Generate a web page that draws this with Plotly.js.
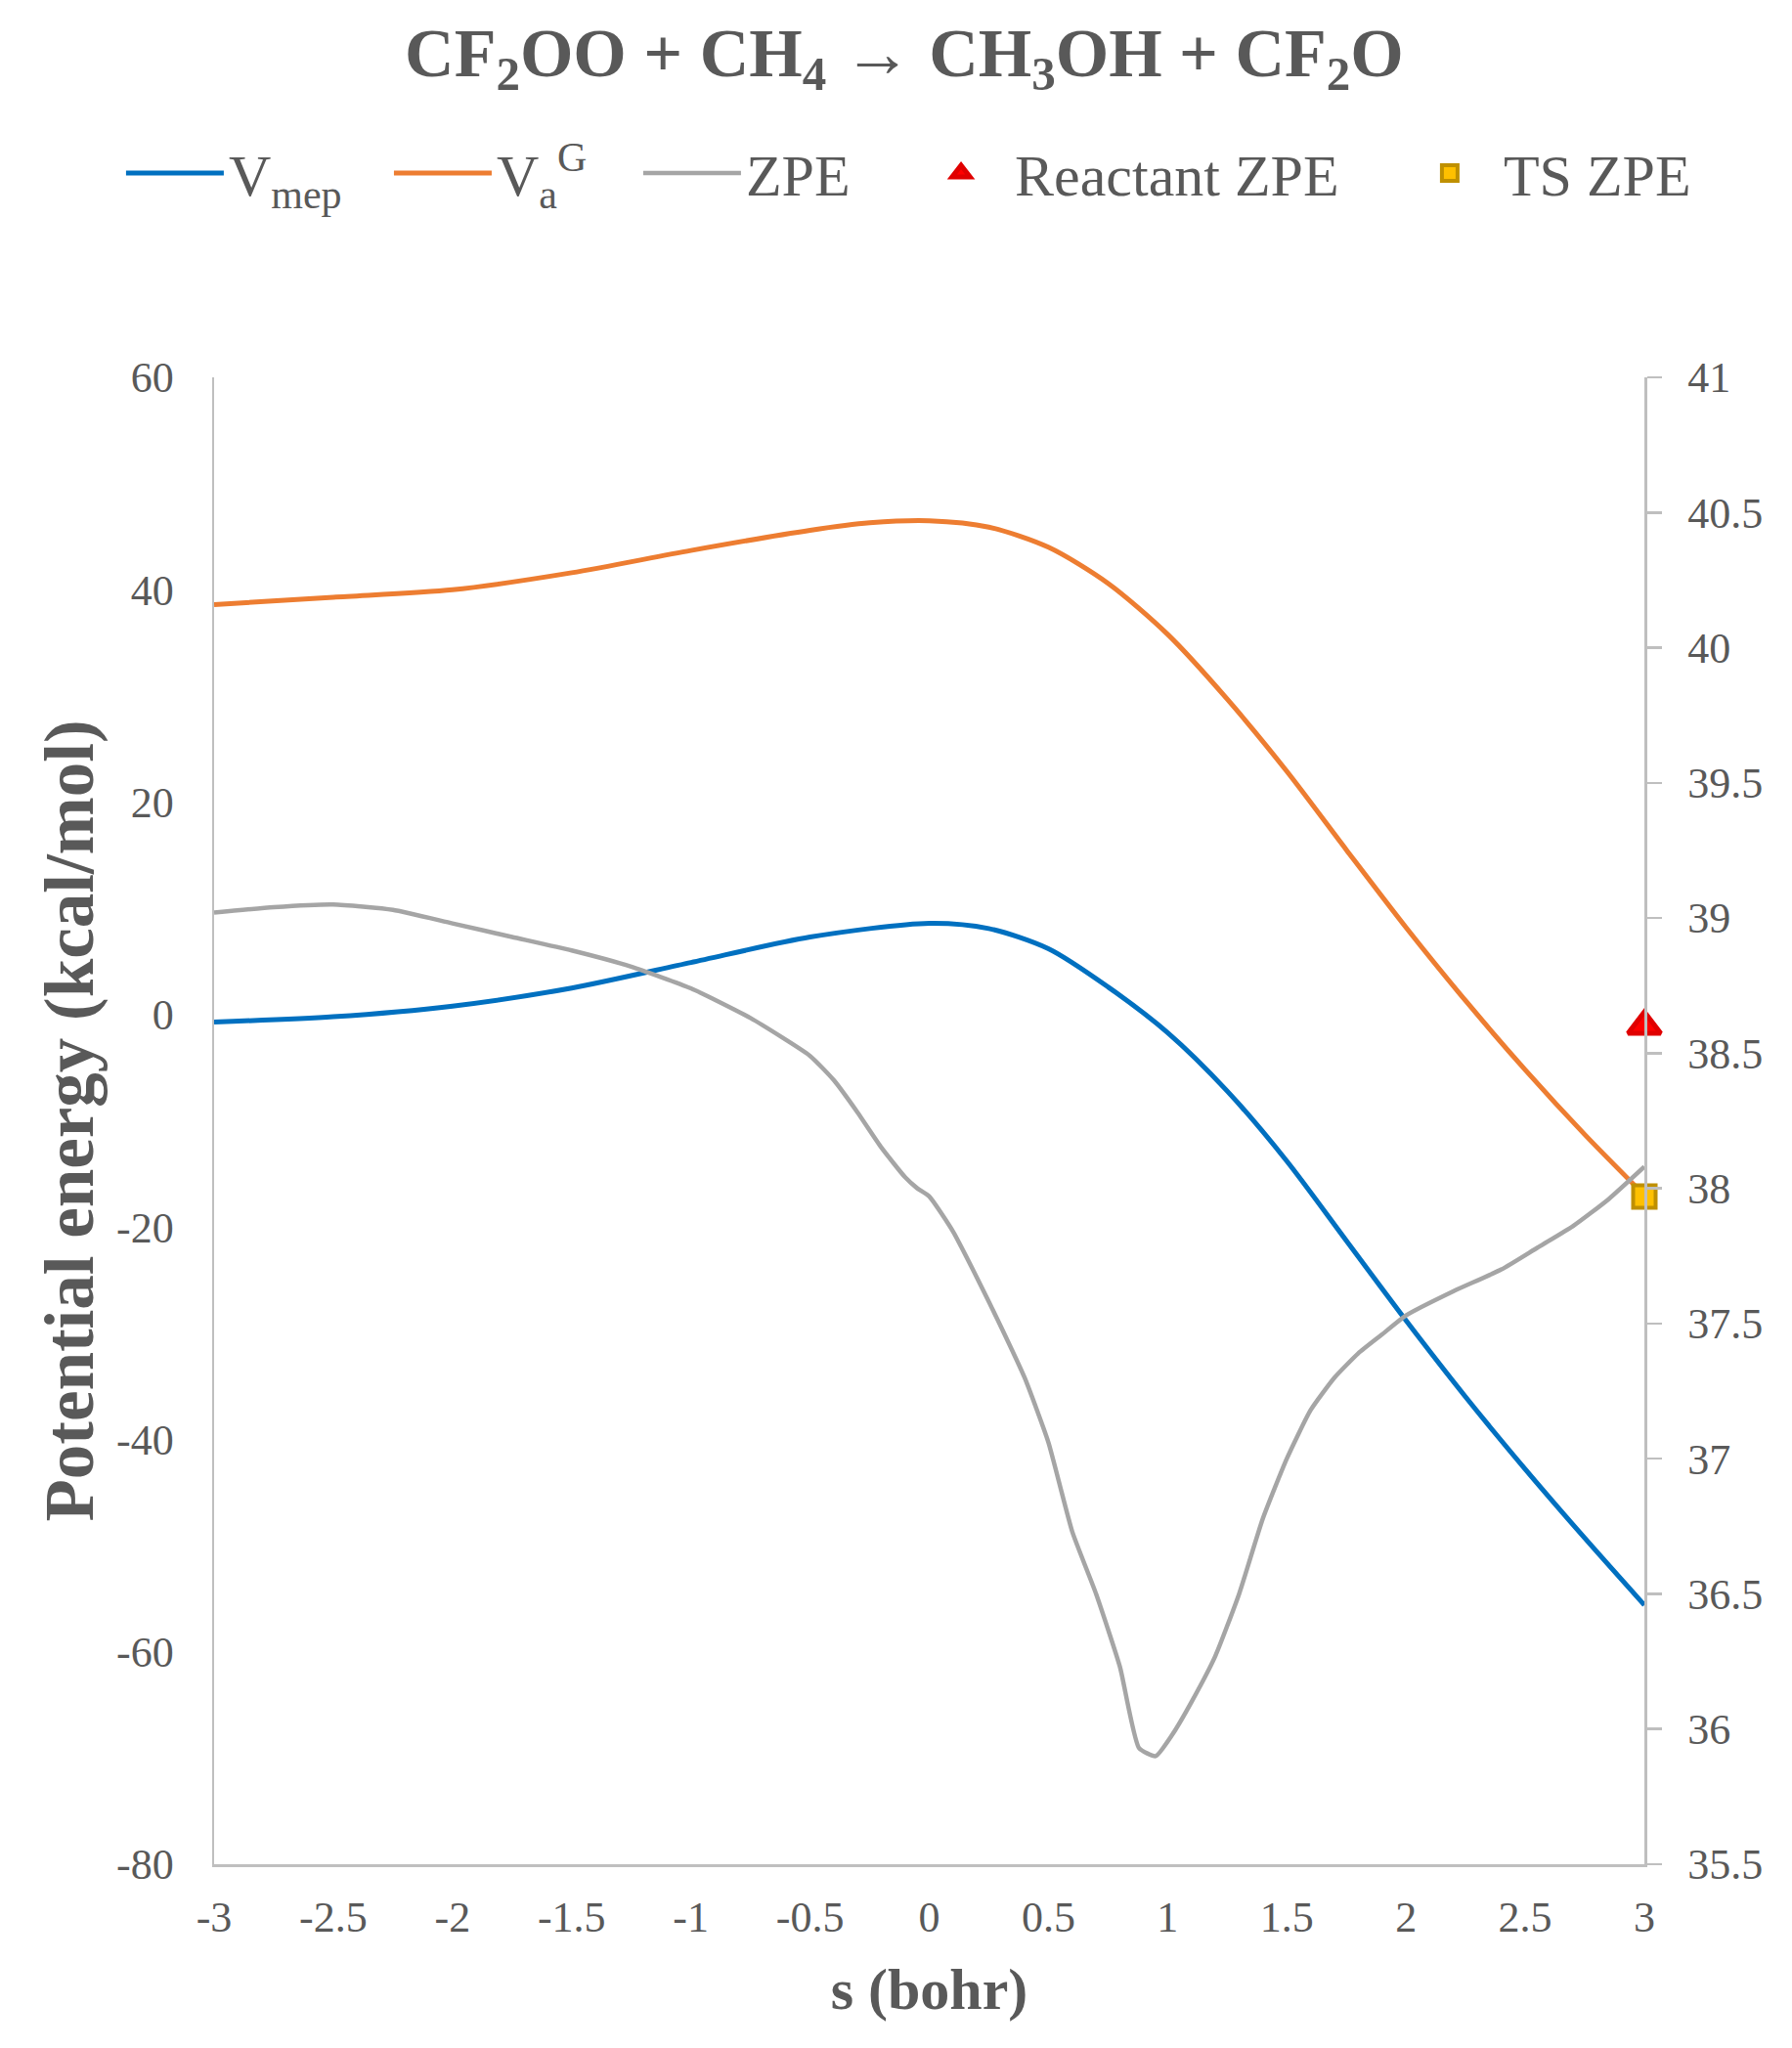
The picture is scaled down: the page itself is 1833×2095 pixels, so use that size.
<!DOCTYPE html>
<html>
<head>
<meta charset="utf-8">
<script src="https://cdn.plot.ly/plotly-3.0.1.min.js"></script>
<style>
  html, body { margin: 0; padding: 0; background: #fff; }
  #chart { width: 1833px; height: 2095px; }
</style>
</head>
<body>
<div id="chart"></div>
<script>
// reaction coordinate s (bohr) and curves
var sMep = [-3, -2.5, -2, -1.5, -1, -0.5, 0, 0.25, 0.5, 0.75, 1, 1.25, 1.5, 1.75, 2, 2.25, 2.5, 2.75, 3];
var vMep = [-0.7, -0.2, 0.8, 2.5, 4.9, 7.3, 8.6, 8.1, 6.2, 2.6, -1.7, -7.2, -13.8, -21.3, -28.8, -36.0, -42.8, -49.3, -55.6];

var sVaG = [-3, -2.5, -2, -1.5, -1, -0.5, -0.25, 0, 0.25, 0.5, 0.75, 1, 1.25, 1.5, 1.75, 2, 2.25, 2.5, 2.75, 3];
var vaG = [38.6, 39.3, 40.0, 41.6, 43.7, 45.6, 46.3, 46.5, 45.9, 44.0, 40.6, 35.8, 29.7, 22.9, 15.5, 8.2, 1.3, -5.2, -11.3, -17.0];

var sZpe = [-3, -2.75, -2.5, -2.25, -2, -1.75, -1.5, -1.25, -1, -0.75, -0.5, -0.4, -0.3, -0.2, -0.1, -0.05,
            0, 0.1, 0.2, 0.3, 0.4, 0.5, 0.6, 0.7, 0.8, 0.88, 0.95, 1.02, 1.1, 1.2, 1.3, 1.4, 1.5, 1.6, 1.7,
            1.8, 1.9, 2, 2.2, 2.4, 2.55, 2.7, 2.85, 3];
var zpe = [39.02, 39.04, 39.05, 39.03, 38.98, 38.93, 38.88, 38.82, 38.74, 38.63, 38.49, 38.40, 38.28, 38.15, 38.04, 38.00,
           37.97, 37.84, 37.67, 37.49, 37.30, 37.06, 36.73, 36.50, 36.23, 35.93, 35.90, 35.98, 36.10, 36.27, 36.50, 36.78, 37.00, 37.18, 37.30,
           37.39, 37.46, 37.53, 37.62, 37.70, 37.78, 37.86, 37.96, 38.08];

var reactantS = [3];
var reactantZpe = [38.6];
var tsS = [3];
var tsZpe = [37.97];

// tick labels (plain hyphen, as in the original)
var sTicks = [-3, -2.5, -2, -1.5, -1, -0.5, 0, 0.5, 1, 1.5, 2, 2.5, 3];
var sTickText = ['-3', '-2.5', '-2', '-1.5', '-1', '-0.5', '0', '0.5', '1', '1.5', '2', '2.5', '3'];
var eTicks = [-80, -60, -40, -20, 0, 20, 40, 60];
var eTickText = ['-80', '-60', '-40', '-20', '0', '20', '40', '60'];

var FONT = '"Liberation Serif", "Times New Roman", serif';
var TXT = '#595959';
var AXIS = '#BFBFBF';

var traces = [
    {
        x: sMep, y: vMep, name: 'V<sub>mep</sub>', legend: 'legend',
        type: 'scatter', mode: 'lines',
        line: {color: '#0070C0', width: 5, shape: 'spline', smoothing: 0.8}
    },
    {
        x: sVaG, y: vaG, name: 'V<sub>a</sub><sup>G</sup>', legend: 'legend2',
        type: 'scatter', mode: 'lines',
        line: {color: '#ED7D31', width: 5, shape: 'spline', smoothing: 0.8}
    },
    {
        x: sZpe, y: zpe, name: 'ZPE', yaxis: 'y2', legend: 'legend3',
        type: 'scatter', mode: 'lines',
        line: {color: '#A5A5A5', width: 4.5, shape: 'spline', smoothing: 0.5}
    },
    {
        x: reactantS, y: reactantZpe, name: 'Reactant ZPE', yaxis: 'y2', legend: 'legend4',
        type: 'scatter', mode: 'markers', cliponaxis: false,
        marker: {symbol: 'triangle-up', size: 29, color: '#FF0000', line: {color: '#E00000', width: 5}}
    },
    {
        x: tsS, y: tsZpe, name: 'TS ZPE', yaxis: 'y2', legend: 'legend5',
        type: 'scatter', mode: 'markers', cliponaxis: false,
        marker: {symbol: 'square', size: 23, color: '#FFC000', line: {color: '#BF9000', width: 4}}
    }
];

function legendAt(x) {
    return {
        orientation: 'h',
        xref: 'container', x: x, xanchor: 'left',
        yref: 'container', y: 0.9155, yanchor: 'middle',
        font: {family: FONT, size: 60, color: TXT},
        itemwidth: 100,
        bgcolor: 'rgba(0,0,0,0)'
    };
}

var layout = {
    width: 1833,
    height: 2095,
    paper_bgcolor: '#ffffff',
    plot_bgcolor: '#ffffff',
    font: {family: FONT, color: TXT, size: 44},
    margin: {l: 219, r: 151, t: 386, b: 188, pad: 0},
    title: {
        text: 'CF<sub>2</sub>OO + CH<sub>4</sub> → CH<sub>3</sub>OH + CF<sub>2</sub>O',
        font: {family: FONT, size: 70, color: TXT, weight: 'bold'},
        xref: 'container', x: 0.5046,
        yref: 'container', y: 0.9747, yanchor: 'middle'
    },
    showlegend: true,
    legend: legendAt(0.0676),
    legend2: legendAt(0.2171),
    legend3: legendAt(0.3562),
    legend4: legendAt(0.5063),
    legend5: legendAt(0.7790),
    xaxis: {
        range: [-3, 3],
        tickvals: sTicks,
        ticktext: sTickText,
        showgrid: false,
        zeroline: false,
        showline: true,
        linecolor: AXIS,
        linewidth: 2.5,
        ticks: '',
        ticklabelstandoff: 14,
        tickfont: {family: FONT, size: 44, color: TXT},
        title: {
            text: 's (bohr)',
            font: {family: FONT, size: 60, color: TXT, weight: 'bold'},
            standoff: 28
        }
    },
    yaxis: {
        range: [-80, 60],
        tickvals: eTicks,
        ticktext: eTickText,
        showgrid: false,
        zeroline: false,
        showline: true,
        linecolor: AXIS,
        linewidth: 2.5,
        ticks: '',
        ticklabelstandoff: 30,
        tickfont: {family: FONT, size: 44, color: TXT},
        title: {
            text: 'Potential energy (kcal/mol)',
            font: {family: FONT, size: 71, color: TXT, weight: 'bold'},
            standoff: 0
        }
    },
    yaxis2: {
        overlaying: 'y',
        side: 'right',
        range: [35.5, 41],
        dtick: 0.5,
        showgrid: false,
        zeroline: false,
        showline: true,
        linecolor: AXIS,
        linewidth: 2.5,
        ticks: 'outside',
        ticklen: 15,
        tickwidth: 2.5,
        tickcolor: AXIS,
        ticklabelstandoff: 18,
        tickfont: {family: FONT, size: 44, color: TXT}
    }
};

Plotly.newPlot('chart', traces, layout, {displayModeBar: false, staticPlot: true});
</script>
</body>
</html>
